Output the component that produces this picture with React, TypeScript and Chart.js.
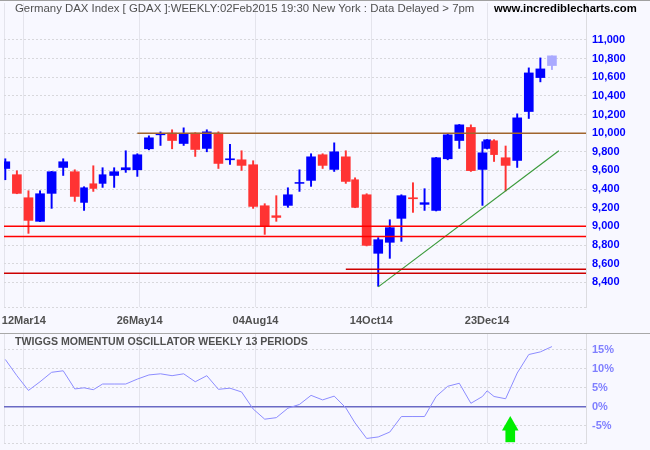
import React, { useEffect, useRef } from "react";
import { Chart, registerables } from "chart.js";

Chart.register(...registerables);

// ---------- DATA ----------
// trading days contained in each weekly bar (holiday weeks are shorter)
const weekTradingDays = [
  5, 5, 5, 5, 5, 5, 5,
  4, 4, 4,
  5, 5, 5, 5, 5, 5, 5, 5, 5, 5, 5, 5, 5, 5, 5, 5, 5, 5, 5, 5, 5,
  4,
  5, 5, 5, 5, 5, 5, 5, 5, 5, 5, 5,
  2, 3,
  5, 5, 5, 5, 5,
];

const opens = [9621, 9554, 9307, 9054, 9354, 9632, 9586, 9257, 9457, 9461,
  9546, 9607, 9607, 9832, 9982, 10000, 9889, 10000, 9836, 10000,
  9714, 9714, 9661, 9221, 9114, 9225, 9461, 9493, 9768, 9611,
  9746, 9500, 9339, 8711, 8829, 9086, 9307, 9236, 9171, 9725,
  9921, 10061, 9611, 9836, 9918, 9736, 9707, 10232, 10596, 10725];
const highs = [9725, 9596, 9382, 9382, 9590, 9725, 9607, 9425, 9650, 9629,
  9629, 9811, 9779, 9971, 10014, 10036, 10057, 10005, 10036, 10014,
  9879, 9811, 9704, 9243, 9329, 9414, 9607, 9779, 9779, 9896,
  9811, 9521, 9350, 8879, 9071, 9339, 9468, 9404, 9740, 9993,
  10093, 10089, 9908, 9932, 9930, 9862, 10207, 10700, 10807, 10829];
const lows = [9500, 9350, 8925, 9050, 9193, 9546, 9268, 9171, 9375, 9418,
  9418, 9579, 9536, 9821, 9868, 9832, 9868, 9750, 9800, 9621,
  9664, 9600, 9193, 8914, 9054, 9204, 9375, 9429, 9621, 9589,
  9461, 9200, 8790, 8357, 8657, 8839, 9150, 9171, 9165, 9714,
  9836, 9589, 9225, 9830, 9696, 9380, 9632, 10157, 10550, 10682];
const closes = [9693, 9354, 9064, 9350, 9586, 9693, 9321, 9414, 9407, 9554,
  9586, 9629, 9768, 9950, 9993, 9921, 9993, 9825, 10014, 9675,
  9725, 9654, 9214, 9004, 9096, 9339, 9471, 9746, 9654, 9800,
  9482, 9204, 8796, 8857, 8986, 9329, 9296, 9254, 9736, 9982,
  10089, 9598, 9789, 9929, 9770, 9654, 10164, 10646, 10689, 10829];

const momentum = [12.5, 8.2, 4.3, 6.6, 9.1, 9.5, 4.7, 5.0, 4.5, 6.0,
  6.0, 6.0, 7.3, 8.4, 8.7, 8.2, 8.7, 6.6, 8.2, 4.6,
  4.9, 3.9, -0.6, -3.3, -2.9, -0.4, 0.6, 3.0, 1.8, 2.8,
  -0.3, -4.3, -8.4, -8.0, -6.7, -2.6, -2.6, -2.6, 2.7, 5.4,
  6.2, 0.9, 2.7, 4.2, 2.7, 2.1, 8.9, 13.8, 14.5, 15.9];

// horizontal levels drawn on the price panel (start day null = from left edge)
const levelValues = [10000, 9000, 8890, 8540, 8497];
const levelStartDays: (number | null)[] = [57, null, null, 147, null];
// trend line (trading day, price)
const trendDays = [161, 239];
const trendValues = [8351, 9810];
// buy signal arrow on oscillator (trading day)
const signalDay = 218;

const xTickDays = [8, 58, 108, 158, 208];
const xTickLabels = ["12Mar14", "26May14", "04Aug14", "14Oct14", "23Dec14"];
const priceTicks = [8400, 8600, 8800, 9000, 9200, 9400, 9600, 9800, 10000, 10200, 10400, 10600, 10800, 11000];
const momentumTicks = [-5, 0, 5, 10, 15];

// ---------- STYLE ----------
const FONT = "'Liberation Sans', Arial, 'DejaVu Sans', sans-serif";
const BG = "#f8f8ff";
const UP = "#0000ff";
const DOWN = "#ff3333";
const PROVISIONAL = "#aaaaff";
const levelColors = ["#a0652d", "#ff0000", "#ff0000", "#cc0000", "#cc0000"];

const X_MIN = -0.56;
const X_MAX = 250.7;
const P_MIN = 8135;
const P_MAX = 11396;
const M_MIN = -9.6;
const M_MAX = 19.23;

type TextItem = { text: string; x: number; y: number; font: string; color: string };
const makeTextPlugin = (id: string, items: TextItem[]) => ({
  id,
  afterDraw(chart: any) {
    const ctx = chart.ctx;
    items.forEach((it) => {
      ctx.save();
      ctx.font = it.font;
      ctx.fillStyle = it.color;
      ctx.textAlign = "left";
      ctx.textBaseline = "middle";
      ctx.fillText(it.text, it.x, it.y);
      ctx.restore();
    });
  },
});

const noPad = (s: any) => {
  s.paddingTop = 0;
  s.paddingBottom = 0;
  s.paddingLeft = 0;
  s.paddingRight = 0;
};

export default function App() {
  const priceRef = useRef<HTMLCanvasElement>(null);
  const oscRef = useRef<HTMLCanvasElement>(null);

  useEffect(() => {
    const barDays: number[] = [];
    let acc = -5;
    weekTradingDays.forEach((d) => {
      acc += d;
      barDays.push(acc);
    });
    const last = opens.length - 1;
    const colorOf = (i: number) =>
      i === last ? PROVISIONAL : closes[i] >= opens[i] ? UP : DOWN;

    const wideBodies: any[] = [];
    const wideColors: string[] = [];
    const narrowBodies: any[] = [];
    const narrowColors: string[] = [];
    const wicks: any[] = [];
    const wickColors: string[] = [];
    barDays.forEach((d, i) => {
      const body = { x: d, y: [opens[i], closes[i]] };
      if (weekTradingDays[i] >= 5) {
        wideBodies.push(body);
        wideColors.push(colorOf(i));
      } else {
        narrowBodies.push(body);
        narrowColors.push(colorOf(i));
      }
      wicks.push({ x: d, y: [lows[i], highs[i]] });
      wickColors.push(colorOf(i));
    });

    const levelSets = levelValues.map((v, i) => ({
      type: "line" as const,
      data: [
        { x: levelStartDays[i] ?? X_MIN, y: v },
        { x: X_MAX, y: v },
      ],
      borderColor: levelColors[i],
      borderWidth: 1.5,
      pointRadius: 0,
      tension: 0,
      order: -1,
    }));

    const tickFont = { family: FONT, size: 11, weight: "bold" as const };

    const priceChart = new Chart(priceRef.current!, {
      type: "line",
      data: {
        datasets: [
          {
            type: "bar",
            data: wideBodies,
            backgroundColor: wideColors,
            barThickness: 9,
            grouped: false,
            borderWidth: 0,
            order: 1,
          } as any,
          {
            type: "bar",
            data: narrowBodies,
            backgroundColor: narrowColors,
            barThickness: 7,
            grouped: false,
            borderWidth: 0,
            order: 1,
          } as any,
          {
            type: "bar",
            data: wicks,
            backgroundColor: wickColors,
            barThickness: 1.3,
            grouped: false,
            borderWidth: 0,
            order: 2,
          } as any,
          ...levelSets,
          {
            type: "line",
            data: trendDays.map((d, i) => ({ x: d, y: trendValues[i] })),
            borderColor: "#3a9a3a",
            borderWidth: 1.2,
            pointRadius: 0,
            tension: 0,
            order: -1,
          },
        ],
      },
      options: {
        responsive: false,
        animation: false,
        layout: { autoPadding: false, padding: { left: 4, top: 3, right: 0, bottom: 0 } },
        plugins: { legend: { display: false }, tooltip: { enabled: false } },
        scales: {
          x: {
            type: "linear",
            min: X_MIN,
            max: X_MAX,
            offset: false,
            afterBuildTicks: (s: any) => {
              s.ticks = [X_MIN, ...xTickDays].map((v) => ({ value: v }));
            },
            afterFit: (s: any) => {
              s.height = 26;
              noPad(s);
            },
            ticks: {
              autoSkip: false,
              maxRotation: 0,
              padding: 7,
              font: tickFont,
              color: "#505050",
              callback: (v: any) => {
                const i = xTickDays.indexOf(Number(v));
                return i >= 0 ? xTickLabels[i] : "";
              },
            },
            grid: { color: "#e4e4ec", drawTicks: false, offset: false },
            border: { display: false },
          },
          y: {
            type: "linear",
            position: "right",
            min: P_MIN,
            max: P_MAX,
            afterBuildTicks: (s: any) => {
              s.ticks = [P_MIN, ...priceTicks].map((v) => ({ value: v }));
            },
            afterFit: (s: any) => {
              s.width = 64;
              noPad(s);
            },
            ticks: {
              autoSkip: false,
              padding: 6,
              font: tickFont,
              color: "#0000ff",
              callback: (v: any) =>
                Number(v) >= priceTicks[0] ? Number(v).toLocaleString("en-US") : "",
            },
            grid: { color: "#d8d8dc", drawTicks: false },
            border: { display: true, color: "#dcdce0", dash: [2, 2] },
          },
        },
      },
      plugins: [
        makeTextPlugin("priceText", [
          {
            text: "Germany DAX Index [ GDAX ]:WEEKLY:02Feb2015 19:30 New York : Data Delayed > 7pm",
            x: 15,
            y: 8.5,
            font: `11.4px ${FONT}`,
            color: "#505050",
          },
          {
            text: "www.incrediblecharts.com",
            x: 494,
            y: 8.5,
            font: `bold 11.3px ${FONT}`,
            color: "#000000",
          },
        ]),
      ],
    } as any);

    const oscChart = new Chart(oscRef.current!, {
      type: "line",
      data: {
        datasets: [
          {
            type: "line",
            data: barDays.map((d, i) => ({ x: d, y: momentum[i] })),
            borderColor: "#8c8cff",
            borderWidth: 1,
            pointRadius: 0,
            tension: 0,
            order: 0,
          },
          {
            type: "line",
            data: [
              { x: X_MIN, y: 0 },
              { x: X_MAX, y: 0 },
            ],
            borderColor: "#6a6ac4",
            borderWidth: 1.5,
            pointRadius: 0,
            order: 1,
          },
          {
            type: "bar",
            data: [{ x: signalDay, y: [-9.3, -6.0] }],
            backgroundColor: "#00ee00",
            barThickness: 9,
            grouped: false,
            borderWidth: 0,
            order: -1,
          } as any,
          {
            type: "line",
            data: [{ x: signalDay, y: -5 }],
            showLine: false,
            pointStyle: "triangle",
            pointRadius: 9.6,
            pointBackgroundColor: "#00ee00",
            pointBorderColor: "#00ee00",
            pointBorderWidth: 0,
            order: -2,
          },
        ],
      },
      options: {
        responsive: false,
        animation: false,
        layout: { autoPadding: false, padding: { left: 4, top: 0, right: 0, bottom: 0 } },
        plugins: { legend: { display: false }, tooltip: { enabled: false } },
        scales: {
          x: {
            type: "linear",
            min: X_MIN,
            max: X_MAX,
            offset: false,
            afterBuildTicks: (s: any) => {
              s.ticks = [X_MIN, ...xTickDays].map((v) => ({ value: v }));
            },
            afterFit: (s: any) => {
              s.height = 7;
              noPad(s);
            },
            ticks: { display: true, autoSkip: false, maxRotation: 0, callback: () => "" },
            grid: { color: "#e4e4ec", drawTicks: false, offset: false },
            border: { display: false },
          },
          y: {
            type: "linear",
            position: "right",
            min: M_MIN,
            max: M_MAX,
            afterBuildTicks: (s: any) => {
              s.ticks = [M_MIN, ...momentumTicks].map((v) => ({ value: v }));
            },
            afterFit: (s: any) => {
              s.width = 64;
              noPad(s);
            },
            ticks: {
              autoSkip: false,
              padding: 6,
              font: tickFont,
              color: "#7f7fff",
              callback: (v: any) => (Number(v) >= momentumTicks[0] ? `${v}%` : ""),
            },
            grid: { color: "#d8d8dc", drawTicks: false },
            border: { display: true, color: "#dcdce0", dash: [2, 2] },
          },
        },
      },
      plugins: [
        makeTextPlugin("oscText", [
          {
            text: "TWIGGS MOMENTUM OSCILLATOR WEEKLY 13 PERIODS",
            x: 15,
            y: 8,
            font: `bold 10.6px ${FONT}`,
            color: "#505050",
          },
        ]),
      ],
    } as any);

    return () => {
      priceChart.destroy();
      oscChart.destroy();
    };
  }, []);

  return (
    <div
      style={{
        position: "absolute",
        left: 0,
        top: 0,
        width: 650,
        height: 450,
        background: BG,
        overflow: "hidden",
      }}
    >
      <canvas ref={priceRef} width={650} height={333} style={{ position: "absolute", left: 0, top: 0 }} />
      <canvas ref={oscRef} width={650} height={116} style={{ position: "absolute", left: 0, top: 334 }} />
      <div style={{ position: "absolute", left: 0, top: 0, width: 650, height: 1, background: "#a0a0a0" }} />
      <div style={{ position: "absolute", left: 0, top: 333, width: 650, height: 1, background: "#a8a8a8" }} />
    </div>
  );
}
